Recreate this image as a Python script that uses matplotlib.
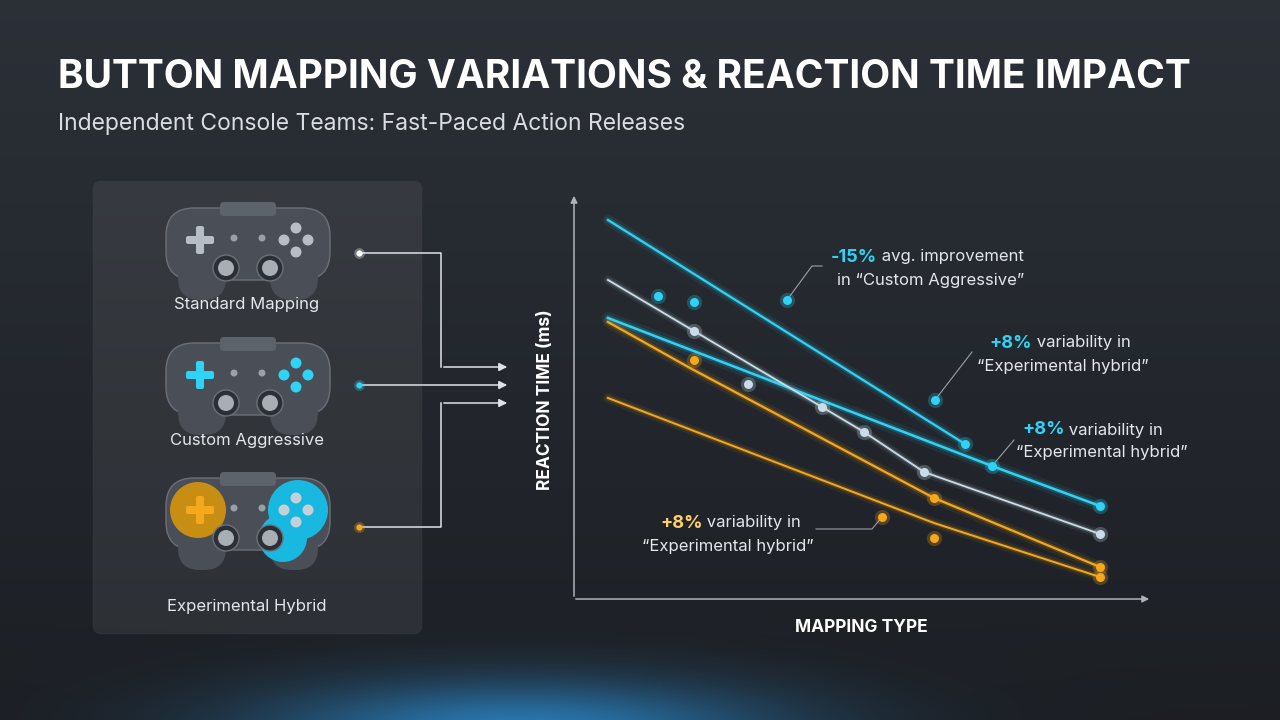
import numpy as np
import matplotlib
matplotlib.use("Agg")
import matplotlib.pyplot as plt
from matplotlib.patches import FancyBboxPatch, Circle

plt.rcParams["font.family"] = ["Inter", "DejaVu Sans"]

# --- データ (画面座標系で読んだ推定値, y は下向き) ---
cyan_top_x = [608, 965]
cyan_top_y = [220, 444]
cyan_mid_x = [608, 992, 1100]
cyan_mid_y = [318, 466, 506]
gray_x = [608, 694, 822, 864, 924, 1100]
gray_y = [280, 331, 407, 432, 472, 534]
orange_up_x = [608, 690, 934, 1100]
orange_up_y = [322, 368, 498, 567]
orange_lo_x = [608, 934, 1100]
orange_lo_y = [398, 523, 577]

cyan_dots_x = [658, 694, 787, 935, 965, 992, 1100]
cyan_dots_y = [296, 302, 300, 400, 444, 466, 506]
gray_dots_x = [694, 748, 822, 864, 924, 1100]
gray_dots_y = [331, 384, 407, 432, 472, 534]
orange_dots_x = [694, 934, 934, 882, 1100, 1100]
orange_dots_y = [360, 498, 538, 517, 567, 577]

mapping_labels = ["Standard Mapping", "Custom Aggressive", "Experimental Hybrid"]

CYAN = "#2fd3f5"
GRAY = "#c8dde8"
ORANGE = "#f5a81c"
BG = "#1e2227"

fig = plt.figure(figsize=(12.8, 7.2), dpi=100)
ax = fig.add_axes([0, 0, 1, 1])
ax.set_xlim(0, 1280)
ax.set_ylim(720, 0)
ax.axis("off")

# 背景グラデーション + 下部の青い光
yy, xx = np.mgrid[0:720, 0:1280]
base = np.zeros((720, 1280, 3))
t = yy / 720
for i, (a, b) in enumerate(zip((0.17, 0.19, 0.22), (0.11, 0.12, 0.14))):
    base[..., i] = a * (1 - t) + b * t
glow = np.exp(-(((xx - 520) / 260) ** 2 + ((yy - 730) / 50) ** 2))
base[..., 0] += glow * 0.05
base[..., 1] += glow * 0.35
base[..., 2] += glow * 0.55
ax.imshow(np.clip(base, 0, 1), extent=(0, 1280, 720, 0), zorder=0)

ax.text(58, 78, "BUTTON MAPPING VARIATIONS & REACTION TIME IMPACT", color="white",
        fontsize=28, fontweight="bold", va="center")
ax.text(58, 124, "Independent Console Teams: Fast-Paced Action Releases", color="#d9dde2",
        fontsize=16.5, va="center")

# 左パネル
ax.add_patch(FancyBboxPatch((93, 181), 329, 453, boxstyle="round,pad=0,rounding_size=8",
                            fc="#ffffff", alpha=0.07, ec="#5a6068", lw=1, zorder=1))


def controller(cx, cy, scheme):
    body = "#4a4f57"
    ax.add_patch(FancyBboxPatch((cx - 82, cy - 42), 164, 72, boxstyle="round,pad=0,rounding_size=28",
                                fc=body, ec="#6a7079", lw=1, zorder=2))
    ax.add_patch(FancyBboxPatch((cx - 70, cy - 10), 48, 60, boxstyle="round,pad=0,rounding_size=22",
                                fc=body, ec="none", zorder=2))
    ax.add_patch(FancyBboxPatch((cx + 22, cy - 10), 48, 60, boxstyle="round,pad=0,rounding_size=22",
                                fc=body, ec="none", zorder=2))
    ax.add_patch(FancyBboxPatch((cx - 28, cy - 48), 56, 14, boxstyle="round,pad=0,rounding_size=4",
                                fc="#5d636b", ec="none", zorder=2))
    dcol = {"std": "#b8bec6", "cyan": CYAN, "hyb": ORANGE}[scheme]
    bcol = {"std": "#b8bec6", "cyan": CYAN, "hyb": "#c6d0d8"}[scheme]
    if scheme == "hyb":
        ax.add_patch(Circle((cx - 50, cy - 10), 28, fc="#c88e14", ec="none", zorder=2.5))
        ax.add_patch(Circle((cx + 50, cy - 10), 30, fc="#19b8e0", ec="none", zorder=2.5))
        ax.add_patch(Circle((cx + 35, cy + 18), 24, fc="#19b8e0", ec="none", zorder=2.5))
    # 十字キー
    ax.add_patch(FancyBboxPatch((cx - 62, cy - 14), 28, 8, boxstyle="round,pad=0,rounding_size=2",
                                fc=dcol, ec="none", zorder=3))
    ax.add_patch(FancyBboxPatch((cx - 52, cy - 24), 8, 28, boxstyle="round,pad=0,rounding_size=2",
                                fc=dcol, ec="none", zorder=3))
    for dx, dy in [(0, -12), (-12, 0), (12, 0), (0, 12)]:
        ax.add_patch(Circle((cx + 48 + dx, cy - 10 + dy), 5.5, fc=bcol, ec="none", zorder=3))
    ax.add_patch(Circle((cx - 14, cy - 12), 3.5, fc="#9aa0a8", zorder=3))
    ax.add_patch(Circle((cx + 14, cy - 12), 3.5, fc="#9aa0a8", zorder=3))
    for sx in (cx - 22, cx + 22):
        ax.add_patch(Circle((sx, cy + 18), 13, fc="#2c3036", ec="#6a7079", zorder=3))
        ax.add_patch(Circle((sx, cy + 18), 8, fc="#a8aeb5", zorder=3))


for cy, sch, lab, ly in [(250, "std", mapping_labels[0], 305),
                         (385, "cyan", mapping_labels[1], 441),
                         (520, "hyb", mapping_labels[2], 606)]:
    controller(248, cy, sch)
    ax.text(247, ly, lab, color="#e3e6ea", fontsize=12, ha="center", va="center", zorder=4)

# 接続線
kw = dict(arrowstyle="-|>", mutation_scale=12, lw=1.1)
ax.plot([359, 441, 441], [253, 253, 367], color="#dfe3e8", lw=1.1, zorder=3)
ax.annotate("", xy=(510, 367), xytext=(441, 367), arrowprops=dict(color="#dfe3e8", **kw))
ax.annotate("", xy=(510, 385), xytext=(359, 385), arrowprops=dict(color="#dfe3e8", **kw))
ax.plot([359, 441, 441], [527, 527, 403], color="#dfe3e8", lw=1.1, zorder=3)
ax.annotate("", xy=(510, 403), xytext=(441, 403), arrowprops=dict(color="#dfe3e8", **kw))
for y, c in [(253, "white"), (385, CYAN), (527, ORANGE)]:
    ax.scatter([359], [y], s=60, color=c, alpha=0.3, zorder=4, lw=0)
    ax.scatter([359], [y], s=20, color=c, zorder=5, lw=0)

# 軸
ax.annotate("", xy=(574, 193), xytext=(574, 599), arrowprops=dict(arrowstyle="-|>", color="#aeb4bb", lw=1.1))
ax.annotate("", xy=(1152, 599), xytext=(573, 599), arrowprops=dict(arrowstyle="-|>", color="#aeb4bb", lw=1.1))
ax.text(546, 400, "REACTION TIME (ms)", rotation=90, color="white", fontsize=12.5,
        fontweight="bold", ha="center", va="center")
ax.text(861, 628, "MAPPING TYPE", color="white", fontsize=12.5, fontweight="bold",
        ha="center", va="center")


def glow_line(x, y, c, lw):
    for w, a in [(lw * 5, 0.08), (lw * 2.5, 0.18)]:
        ax.plot(x, y, color=c, lw=w, alpha=a, solid_capstyle="round", zorder=5)
    ax.plot(x, y, color=c, lw=lw, zorder=6)


glow_line(cyan_top_x, cyan_top_y, CYAN, 1.6)
glow_line(cyan_mid_x, cyan_mid_y, CYAN, 1.8)
glow_line(gray_x, gray_y, GRAY, 1.3)
glow_line(orange_up_x, orange_up_y, ORANGE, 1.6)
glow_line(orange_lo_x, orange_lo_y, ORANGE, 1.4)

for xs, ys, c in [(cyan_dots_x, cyan_dots_y, CYAN), (gray_dots_x, gray_dots_y, GRAY),
                  (orange_dots_x, orange_dots_y, ORANGE)]:
    ax.scatter(xs, ys, s=120, color=c, alpha=0.25, lw=0, zorder=7)
    ax.scatter(xs, ys, s=42, color=c, lw=0, zorder=8)


def note(x, y, pct, pc, line1, line2, x2):
    t1 = ax.text(x, y, pct, color=pc, fontsize=13, fontweight="bold", va="center", zorder=9)
    ax.annotate(" " + line1, xycoords=t1, xy=(1, 0.5), va="center", color="#e3e6ea",
                fontsize=12, zorder=9)
    ax.text(x2, y + 23, line2, color="#e3e6ea", fontsize=12, va="center", zorder=9)


ax.plot([787, 812, 822], [300, 266, 266], color="#9aa0a8", lw=0.8, zorder=4)
note(831, 257, "-15%", CYAN, "avg. improvement", "in \u201cCustom Aggressive\u201d", 837)
ax.plot([935, 972], [400, 352], color="#9aa0a8", lw=0.8, zorder=4)
note(989, 343, "+8%", CYAN, "variability in", "\u201cExperimental hybrid\u201d", 977)
ax.plot([992, 1014], [466, 440], color="#9aa0a8", lw=0.8, zorder=4)
note(1022, 430, "+8%", CYAN, "variability in", "\u201cExperimental hybrid\u201d", 1016)
ax.plot([882, 872, 816], [517, 529, 529], color="#9aa0a8", lw=0.8, zorder=4)
note(660, 523, "+8%", "#ffd166", "variability in", "\u201cExperimental hybrid\u201d", 642)

fig.savefig("out.png", dpi=100, facecolor=BG)
